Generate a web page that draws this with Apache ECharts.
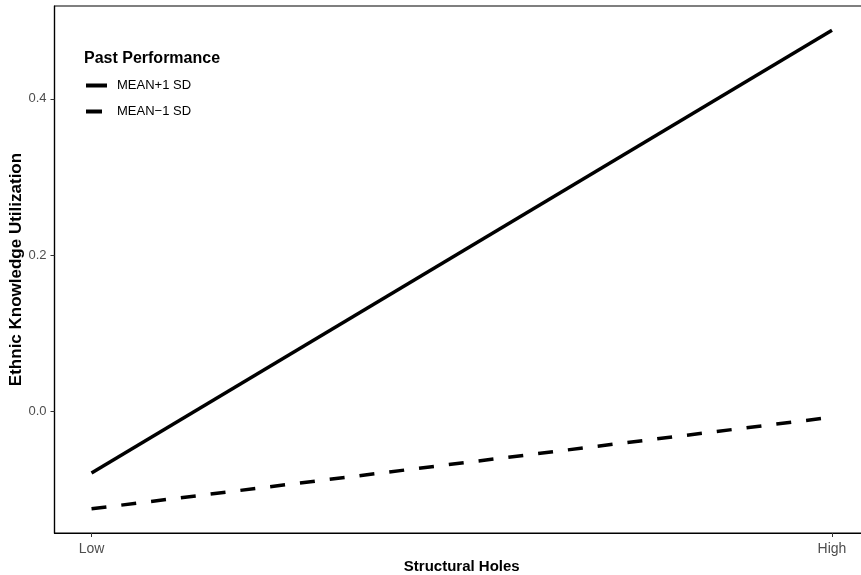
<!DOCTYPE html>
<html>
<head>
<meta charset="utf-8">
<script src="https://cdn.jsdelivr.net/npm/echarts@6/dist/echarts.min.js"></script>
<style>html,body{margin:0;padding:0;background:#fff}#c{width:861px;height:575px}</style>
</head>
<body>
<div id="c"></div>
<script>
const categories = ['Low', 'High'];
const seriesNames = ['MEAN+1 SD', 'MEAN\u22121 SD'];
const highPerf = [-0.079, 0.488];
const lowPerf = [-0.125, -0.0077];
const yTicks = [0.0, 0.2, 0.4];

const chart = echarts.init(document.getElementById('c'), null, {renderer: 'canvas'});
const font = 'Liberation Sans, Arial, Helvetica, sans-serif';
const toPts = arr => arr.map((v, i) => [i + 1, v]);

chart.setOption({
  animation: false,
  backgroundColor: '#ffffff',
  textStyle: {fontFamily: font},
  title: {
    text: 'Past Performance',
    left: 79, top: 46,
    textStyle: {fontFamily: font, fontSize: 16, fontWeight: 'bold', color: '#000'}
  },
  legend: {
    orient: 'vertical',
    left: 81, top: 74,
    itemWidth: 21, itemHeight: 4, itemGap: 13,
    textStyle: {fontFamily: font, fontSize: 13, color: '#000', padding: [0, 0, 0, 5]},
    data: [
      {name: seriesNames[0], icon: 'path://M0,0H21V4H0Z'},
      {name: seriesNames[1], icon: 'path://M0,0H16V4H0Z M21,2L21,2'}
    ]
  },
  grid: {left: 54.5, top: 6, right: -8, bottom: 42, outerBoundsMode: 'none', show: true, borderColor: '#000', borderWidth: 1.2, containLabel: false},
  xAxis: {
    type: 'value', min: 0.95, max: 2.05,
    name: 'Structural Holes', nameLocation: 'middle', nameGap: 26, nameMoveOverlap: false,
    nameTextStyle: {fontFamily: font, fontSize: 15, fontWeight: 'bold', color: '#000'},
    axisLine: {show: true, onZero: false, lineStyle: {color: '#000', width: 1.2}},
    axisTick: {show: true, length: 4, lineStyle: {color: '#333'}, customValues: [1, 2]},
    axisLabel: {customValues: [1, 2], formatter: v => categories[Math.round(v) - 1], color: '#4d4d4d', fontSize: 14, margin: 9, fontFamily: font},
    splitLine: {show: false}
  },
  yAxis: {
    type: 'value', min: -0.156, max: 0.519,
    name: 'Ethnic Knowledge Utilization', nameLocation: 'middle', nameGap: 30, nameRotate: 90, nameMoveOverlap: false,
    nameTextStyle: {fontFamily: font, fontSize: 17, fontWeight: 'bold', color: '#000'},
    axisLine: {show: true, onZero: false, lineStyle: {color: '#000', width: 1.2}},
    axisTick: {show: true, length: 4, lineStyle: {color: '#333'}, customValues: yTicks},
    axisLabel: {customValues: yTicks, formatter: v => v.toFixed(1), color: '#4d4d4d', fontSize: 13, margin: 8, fontFamily: font},
    splitLine: {show: false}
  },
  series: [
    {name: seriesNames[0], type: 'line', data: toPts(highPerf), symbol: 'none',
     lineStyle: {color: '#000', width: 3.5, type: 'solid'}, itemStyle: {color: '#000'}},
    {name: seriesNames[1], type: 'line', data: toPts(lowPerf), symbol: 'none',
     lineStyle: {color: '#000', width: 3.5, type: [15, 15]}, itemStyle: {color: '#000'}}
  ]
});
</script>
</body>
</html>
